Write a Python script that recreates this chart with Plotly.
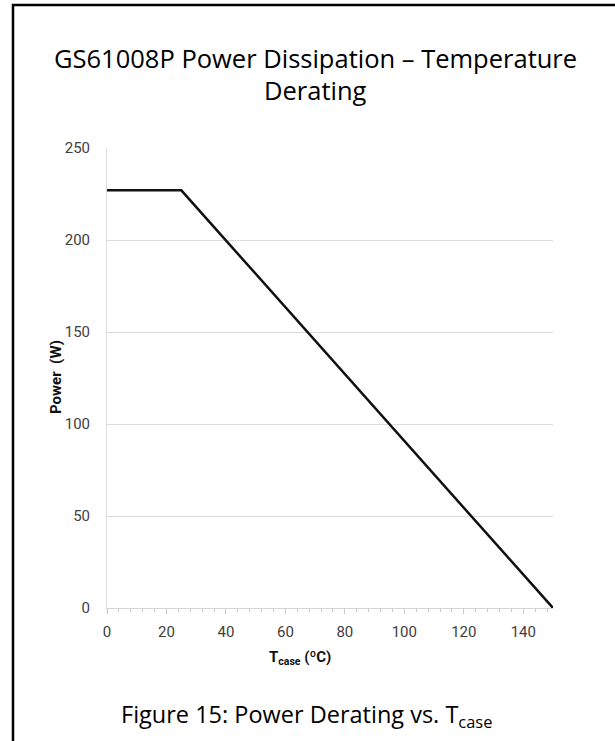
import plotly.graph_objects as go

# Data
temp_c = [0, 25, 150]
power_w = [227, 227, 0]
x_ticks = [0, 20, 40, 60, 80, 100, 120, 140]
y_ticks = [0, 50, 100, 150, 200, 250]

W, H = 615, 741
L, R, T, B = 107, 62, 148, 133
pw, ph = W - L - R, H - T - B

def px(xp):
    return (xp - L) / pw

def py(yp):
    return 1 - (yp - T) / ph

FONT = "Roboto, sans-serif"
TFONT = "Open Sans, sans-serif"

fig = go.Figure()
fig.add_trace(go.Scatter(x=temp_c, y=power_w, mode="lines",
                         line=dict(color="#111111", width=2.5),
                         hoverinfo="skip", showlegend=False))

fig.update_layout(
    width=W, height=H,
    margin=dict(l=L, r=R, t=T, b=B),
    paper_bgcolor="white", plot_bgcolor="white",
    showlegend=False,
    xaxis=dict(range=[0, 150], tickvals=x_ticks, showgrid=False,
               zeroline=False, showline=True, linecolor="#d4d4d4", linewidth=1,
               ticks="outside", ticklen=5, tickcolor="#c8c8c8",
               ticklabelstandoff=5,
               minor=dict(dtick=4, tick0=0, ticks="outside", ticklen=3, tickcolor="#c8c8c8"),
               tickfont=dict(family=FONT, size=15, color="#404040"),
               fixedrange=True),
    yaxis=dict(range=[0, 250], tickvals=y_ticks, showgrid=True,
               gridcolor="#dcdcdc", gridwidth=1, zeroline=False,
               showline=True, linecolor="#dcdcdc", linewidth=1,
               ticks="", ticklabelstandoff=13,
               tickfont=dict(family=FONT, size=15, color="#404040"),
               fixedrange=True),
)

def note(text, xp, yp, size, family, color="#000000", angle=0):
    fig.add_annotation(text=text, xref="paper", yref="paper",
                       x=px(xp), y=py(yp), xanchor="center", yanchor="middle",
                       showarrow=False, textangle=angle,
                       font=dict(family=family, size=size, color=color))

# Axis titles
note("<b>T<sub>case</sub> (ºC)</b>", 300, 658, 15, FONT, "#111111")
note("<b>Power  (W)</b>", 56, 377, 15, FONT, "#111111", angle=-90)

# Titles
note("GS61008P Power Dissipation – Temperature", 315, 58, 25.5, TFONT)
note("Derating", 315, 90, 25.5, TFONT)
note("Figure 15: Power Derating vs. T<sub>case</sub>", 306, 715, 23.5, TFONT)

# Frame border (top and left)
fig.add_shape(type="line", xref="paper", yref="paper",
              x0=px(12), y0=py(5), x1=px(616), y1=py(5),
              line=dict(color="black", width=2.5))
fig.add_shape(type="line", xref="paper", yref="paper",
              x0=px(13), y0=py(4), x1=px(13), y1=py(745),
              line=dict(color="black", width=2.5))

fig.write_html("out.html")
